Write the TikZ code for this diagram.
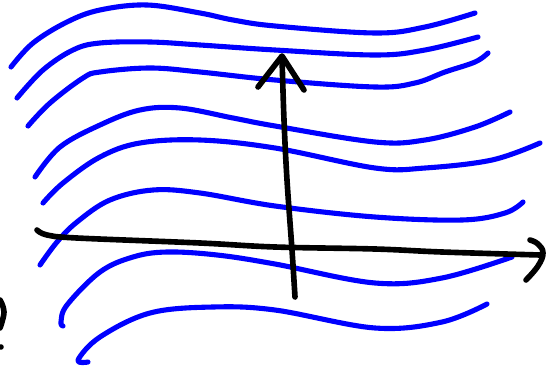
\documentclass[tikz,border=0pt]{standalone}
\begin{document}
\begin{tikzpicture}[x=0.02cm,y=-0.02cm,
  wave/.style={draw=blue,line width=2.9pt,line cap=round,line join=round},
  ink/.style={draw=black,line width=3.2pt,line cap=round,line join=round}]
\useasboundingbox (0,0) rectangle (550,371);
% blue waves
\draw[wave] plot[smooth,tension=0.6] coordinates {(11,67) (33,43) (67,22) (100,10) (147,5) (200,13) (233,20) (275,26) (375,33) (425,27) (475,13)};
\draw[wave] plot[smooth,tension=0.6] coordinates {(17,98) (43,70) (73,50) (100,43) (150,42) (200,45) (275,50) (375,55) (425,50) (478,37)};
\draw[wave] plot[smooth,tension=0.6] coordinates {(28,126) (50,103) (83,78) (100,72) (150,68) (200,72) (275,80) (375,87) (415,83) (445,72) (475,62) (488,53)};
\draw[wave] plot[smooth,tension=0.6] coordinates {(35,177) (60,147) (100,125) (140,110) (180,108) (233,118) (275,126) (375,142) (425,140) (475,127) (510,112)};
\draw[wave] plot[smooth,tension=0.6] coordinates {(43,203) (63,183) (100,157) (140,143) (200,140) (275,148) (375,168) (425,168) (492,160) (540,143)};
\draw[wave] plot[smooth,tension=0.6] coordinates {(40,265) (57,242) (77,222) (110,200) (153,190) (200,193) (275,206) (375,217) (462,220) (505,213) (523,202)};
\draw[wave] plot[smooth,tension=0.6] coordinates {(63,326) (61,322) (67,305) (100,272) (133,257) (167,252) (217,255) (275,264) (375,283) (442,278) (512,257)};
\draw[wave] plot[smooth,tension=0.6] coordinates {(88,362) (78,360) (100,337) (150,313) (213,307) (275,310) (375,328) (442,322) (487,304)};
% horizontal axis
\draw[ink] plot[smooth,tension=0.6] coordinates {(37,230) (47,235) (77,238) (200,243) (275,247) (375,249) (442,252) (540,255)};
\draw[ink] plot[smooth,tension=0.7] coordinates {(530,240) (538,244) (543,253) (538,266) (526,280)};
% vertical axis
\draw[ink] plot[smooth,tension=0.6] coordinates {(295,297) (292,250) (287,180) (284,120) (282,57)};
\draw[ink] (258,87) -- (282,56) -- (304,90);
% mark at left edge
\draw[ink] plot[smooth,tension=0.7] coordinates {(0,300) (4,312) (0,328)};
\fill (1,347) circle (2.8);
\end{tikzpicture}
\end{document}
